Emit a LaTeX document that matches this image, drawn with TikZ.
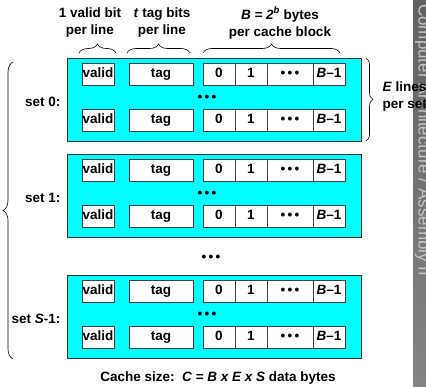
\documentclass[tikz,border=0pt]{standalone}
\usepackage{fontspec}
\setmainfont{Liberation Sans}
\usetikzlibrary{decorations.pathreplacing}

\definecolor{setfill}{RGB}{0,255,255}
\newcommand\dotrow{•\hspace{2.2pt}•\hspace{2.2pt}•}

\begin{document}
\begin{tikzpicture}[x=1pt,y=-1pt,>=latex,
    font=\fontsize{13.5}{17}\selectfont\bfseries,
    setbox/.style={draw=black!80,line width=0.9pt,fill=setfill,minimum width=294pt,minimum height=83pt,inner sep=0pt},
    cell/.style={draw=black!75,line width=0.8pt,fill=white,minimum height=22pt,inner sep=0pt,
      text height=9.8pt,text depth=2.6pt},
    brace/.style={decorate,decoration={brace,amplitude=#1},line width=0.6pt}]
  \useasboundingbox (0,0) rectangle (426,387);

  % one cyan box per set, two lines in each
  \foreach \s/\ytop/\lab in {0/58/{set 0:},1/154/{set 1:},2/275/{set \textit{S}-1:}}{
    \node[setbox] (set\s) at (214,\ytop+41.5) {};
    \node[anchor=east] (lab\s) at (64,\ytop+44) {\lab};
    \node (dots\s) at (207,\ytop+40) {\dotrow};
    \foreach \r/\dy in {a/16,b/62}{
      \node[cell,minimum width=32pt] (valid\s\r) at (98,\ytop+\dy) {valid};
      \node[cell,minimum width=64pt] (tag\s\r) at (161,\ytop+\dy) {tag};
      \node[cell,minimum width=32pt] (zero\s\r) at (219,\ytop+\dy) {0};
      \node[cell,minimum width=32pt] (one\s\r) at (251,\ytop+\dy) {1};
      \node[cell,minimum width=46pt] (mid\s\r) at (290,\ytop+\dy) {\dotrow};
      \node[cell,minimum width=32pt] (last\s\r) at (329,\ytop+\dy) {\textit{B}–1};
    }
  }
  \node (setdots) at (211,258) {\dotrow};

  % braces
  \draw[brace=10pt] (13,359) -- (13,62);
  \draw[brace=9pt] (79,53) -- (116,53);
  \draw[brace=9pt] (127,53) -- (190,53);
  \draw[brace=9pt] (203,53) -- (340,53);
  \draw[brace=7pt] (366,58) -- (366,141);

  % labels over the columns
  \node[align=center] (vbit) at (90,23) {1 valid bit\\per line};
  \node[align=center] (tbits) at (162,23) {\textit{t} tag bits\\per line};
  \node[align=center] (bbytes) at (280,23) {\textit{B = 2\textsuperscript{b}} bytes\\per cache block};

  % side strip
  \shade[top color=black!62,middle color=black!76,bottom color=black!48] (413,0) rectangle (426,387);
  \begin{scope}
    \clip (413,0) rectangle (426,387);
    \node[rotate=-90,anchor=base west,inner sep=0pt,text=black!22,
      font=\fontsize{17}{17}\selectfont] (strip) at (418.5,4) {Computer Architecture / Assembly II};
  \end{scope}

  \node[align=left,anchor=west] (elines) at (379,97) {\textit{E} lines\\per set};
  \node (size) at (218,378) {Cache size:\ \ \textit{C = B x E x S} data bytes};
\end{tikzpicture}
\end{document}
